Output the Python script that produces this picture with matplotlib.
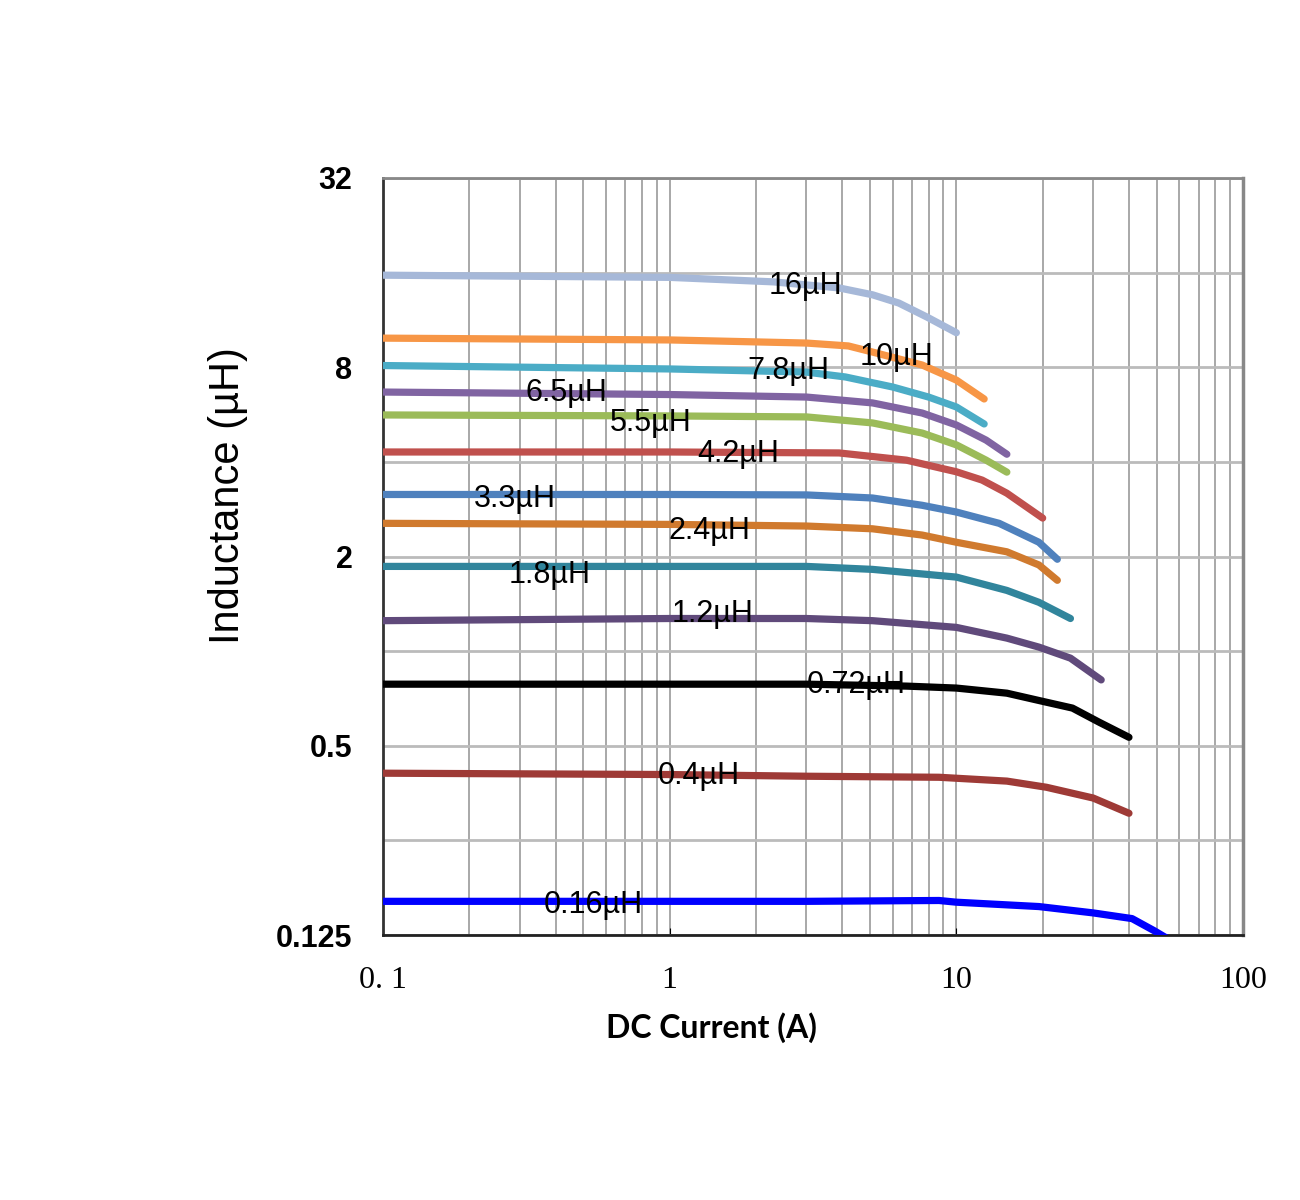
import matplotlib.pyplot as plt
from matplotlib.ticker import FixedLocator, NullFormatter, FixedFormatter

# - curve data (DC current A, inductance uH) -#
x_16 = [0.1, 1, 2.3, 3.9, 5.1, 6.3, 7.9, 10]
y_16 = [15.7, 15.45, 14.95, 14.3, 13.6, 12.8, 11.55, 10.3]

x_10 = [0.1, 1, 3, 4.2, 5.1, 7.6, 10, 12.5]
y_10 = [9.9, 9.77, 9.55, 9.35, 8.94, 8.13, 7.28, 6.34]

x_78 = [0.1, 1, 3, 4.1, 6.0, 8.0, 10, 12.5]
y_78 = [8.1, 7.9, 7.72, 7.45, 6.92, 6.43, 5.98, 5.28]

x_65 = [0.1, 1, 3, 5.1, 7.6, 10, 12.7, 15]
y_65 = [6.67, 6.55, 6.43, 6.16, 5.72, 5.24, 4.69, 4.23]

x_55 = [0.1, 1, 3, 5.1, 7.6, 10, 12.7, 15]
y_55 = [5.64, 5.6, 5.56, 5.32, 4.94, 4.53, 4.05, 3.71]

x_42 = [0.1, 1, 3.9, 6.7, 8.0, 10, 12.3, 15, 20]
y_42 = [4.3, 4.3, 4.27, 4.05, 3.9, 3.72, 3.5, 3.18, 2.65]

x_33 = [0.1, 1, 3, 5.1, 7.6, 10, 14.1, 19.4, 22.5]
y_33 = [3.15, 3.15, 3.14, 3.07, 2.91, 2.77, 2.55, 2.22, 1.96]

x_24 = [0.1, 1, 3, 5.1, 7.6, 10, 15, 19.4, 22.5]
y_24 = [2.55, 2.53, 2.5, 2.45, 2.34, 2.22, 2.07, 1.88, 1.68]

x_18 = [0.1, 1, 3, 5.1, 10, 15, 19.4, 25]
y_18 = [1.86, 1.86, 1.86, 1.82, 1.72, 1.56, 1.43, 1.27]

x_12 = [0.1, 1, 3, 5.1, 10, 15, 19.4, 25, 32]
y_12 = [1.25, 1.27, 1.27, 1.25, 1.19, 1.10, 1.03, 0.95, 0.81]

x_072 = [0.1, 1, 3, 6.7, 10, 15, 20.6, 25.4, 31.5, 40]
y_072 = [0.785, 0.785, 0.785, 0.774, 0.763, 0.735, 0.688, 0.659, 0.594, 0.532]

x_04 = [0.1, 1, 3, 8.7, 15, 20.6, 30, 40]
y_04 = [0.409, 0.405, 0.40, 0.397, 0.386, 0.369, 0.341, 0.305]

x_016 = [0.1, 1, 3, 8.7, 10, 19.4, 30, 41, 49, 56]
y_016 = [0.16, 0.16, 0.16, 0.161, 0.159, 0.154, 0.147, 0.141, 0.129, 0.12]

labels = ["16µH", "10µH", "7.8µH", "6.5µH", "5.5µH", "4.2µH", "3.3µH",
          "2.4µH", "1.8µH", "1.2µH", "0.72µH", "0.4µH", "0.16µH"]
label_x = [2.98, 6.18, 2.6, 0.438, 0.86, 1.73, 0.288, 1.38, 0.382, 1.41, 4.48, 1.26, 0.543]
label_y = [14.5, 8.62, 7.78, 6.62, 5.31, 4.23, 3.05, 2.41, 1.745, 1.31, 0.78, 0.40, 0.156]

colors = ["#A6B8D8", "#F79646", "#4BACC6", "#8064A2", "#9BBB59", "#C0504D", "#4F81BD",
          "#D07A2E", "#31859C", "#604A7B", "#000000", "#9E3A36", "#0000FF"]

xs = [x_16, x_10, x_78, x_65, x_55, x_42, x_33, x_24, x_18, x_12, x_072, x_04, x_016]
ys = [y_16, y_10, y_78, y_65, y_55, y_42, y_33, y_24, y_18, y_12, y_072, y_04, y_016]

y_ticks = [0.125, 0.25, 0.5, 1, 2, 4, 8, 16, 32]
y_tick_labels = ["0.125", "", "0.5", "", "2", "", "8", "", "32"]
x_ticks = [0.1, 1, 10, 100]
x_tick_labels = ["0. 1", "1", "10", "100"]

fig = plt.figure(figsize=(13, 12), dpi=100)
ax = fig.add_axes([0.2946, 0.2208, 0.6616, 0.6309])

for x, y, c in zip(xs, ys, colors):
    ax.plot(x, y, color=c, linewidth=5.2, solid_capstyle='round', solid_joinstyle='round', zorder=3)

for t, lx, ly in zip(labels, label_x, label_y):
    ax.text(lx, ly, t, ha='center', va='center', fontsize=22,
            family='Liberation Sans', color='black', zorder=4)

ax.set_xscale('log')
ax.set_yscale('log', base=2)
ax.set_xlim(0.1, 100)
ax.set_ylim(0.125, 32)

ax.yaxis.set_major_locator(FixedLocator(y_ticks))
ax.yaxis.set_major_formatter(FixedFormatter(y_tick_labels))
ax.yaxis.set_minor_locator(FixedLocator([]))
ax.xaxis.set_major_locator(FixedLocator(x_ticks))
ax.xaxis.set_major_formatter(FixedFormatter(x_tick_labels))
ax.xaxis.set_minor_formatter(NullFormatter())

ax.grid(True, which='major', axis='y', color='#BBBBBB', linewidth=2, zorder=1)
ax.grid(True, which='both', axis='x', color='#999999', linewidth=1.2, zorder=1)
ax.set_axisbelow(True)

for lab in ax.get_yticklabels():
    lab.set_fontfamily('Liberation Sans')
    lab.set_fontweight('bold')
    lab.set_fontsize(22)
for lab in ax.get_xticklabels():
    lab.set_fontfamily('Liberation Serif')
    lab.set_fontsize(23)

ax.tick_params(axis='y', length=0, pad=22)
ax.tick_params(axis='x', which='major', length=5, direction='in', pad=22)
ax.tick_params(axis='x', which='minor', length=0)

ax.spines['left'].set_color('#333333')
ax.spines['left'].set_linewidth(2)
ax.spines['bottom'].set_color('#222222')
ax.spines['bottom'].set_linewidth(2)
ax.spines['top'].set_color('#888888')
ax.spines['top'].set_linewidth(2)
ax.spines['right'].set_color('#888888')
ax.spines['right'].set_linewidth(2.5)

ax.set_xlabel("DC Current (A)", fontsize=23, fontweight='bold', family='Lato')
ax.xaxis.set_label_coords(0.3814, -0.102)
ax.set_ylabel("Inductance (µH)", fontsize=30, family='Liberation Sans')
ax.yaxis.set_label_coords(-0.157, 0.581)

fig.savefig("out.png", dpi=100)
